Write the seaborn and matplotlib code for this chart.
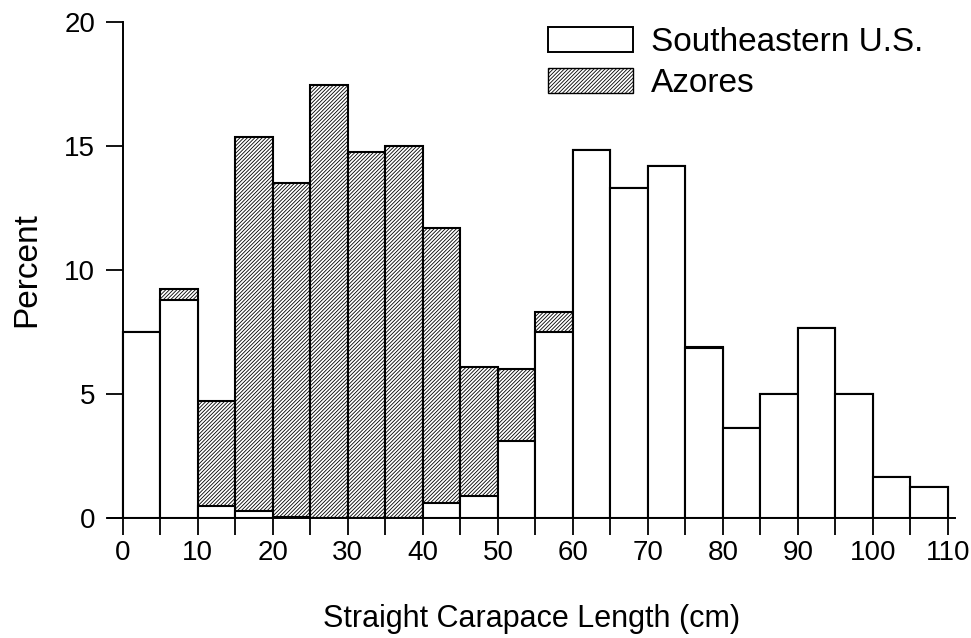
import numpy as np
import pandas as pd
import matplotlib
matplotlib.use("Agg")
import matplotlib.pyplot as plt
from matplotlib.patches import Patch
import seaborn as sns

# Data: 5-cm bins of straight carapace length (cm), percent per bin
bin_edges = [0, 5, 10, 15, 20, 25, 30, 35, 40, 45, 50, 55, 60,
             65, 70, 75, 80, 85, 90, 95, 100, 105, 110]
southeastern_us = [7.5, 8.8, 0.5, 0.3, 0.05, 0.0, 0.0, 0.0, 0.6, 0.9, 3.1, 7.5,
                   14.85, 13.3, 14.2, 6.85, 3.65, 5.0, 7.65, 5.0, 1.65, 1.25]
azores = [0.0, 0.45, 4.2, 15.05, 13.45, 17.45, 14.75, 15.0, 11.1, 5.2, 2.9, 0.8,
          0.0, 0.0, 0.0, 0.05, 0.0, 0.0, 0.0, 0.0, 0.0, 0.0]
x_ticks = [0, 10, 20, 30, 40, 50, 60, 70, 80, 90, 100, 110]
y_ticks = [0, 5, 10, 15, 20]

sns.set_theme(style="white")
plt.rcParams['font.family'] = ['Liberation Sans', 'DejaVu Sans']
plt.rcParams['hatch.color'] = '#2a2a2a'
plt.rcParams['hatch.linewidth'] = 0.6

HATCH = "/" * 9

edges = np.array(bin_edges, dtype=float)
centers = (edges[:-1] + edges[1:]) / 2
se = np.array(southeastern_us)
az = np.array(azores)
df = pd.DataFrame({"center": centers, "se": se, "total": se + az})

fig = plt.figure(figsize=(9.71, 6.38), dpi=100)
ax = fig.add_axes([0.111, 0.188, 0.873, 0.7775])

# Azores stacked on top of Southeastern U.S.: draw total (hatched), then SE (white) over it
sns.histplot(data=df, x="center", weights="total", bins=list(bin_edges), ax=ax,
             color="white", edgecolor="black", linewidth=1.5, alpha=1,
             hatch=HATCH, stat="count")
sns.histplot(data=df, x="center", weights="se", bins=list(bin_edges), ax=ax,
             color="white", edgecolor="black", linewidth=1.5, alpha=1,
             stat="count")

ax.set_xlim(-2, 111)
ax.set_ylim(0, 20)
for s in ["top", "right"]:
    ax.spines[s].set_visible(False)
ax.spines["left"].set_position(("data", 0))
ax.spines["left"].set_bounds(0, 20)
for s in ["left", "bottom"]:
    ax.spines[s].set_color("black")
    ax.spines[s].set_linewidth(1.4)

ax.set_xticks(x_ticks)
ax.set_xticks(bin_edges, minor=True)
ax.set_yticks(y_ticks)
ax.tick_params(axis="both", which="both", direction="out", length=12, width=1.3,
               color="black", labelsize=20, labelcolor="black")
ax.tick_params(axis="x", which="both", bottom=True, pad=4)
ax.tick_params(axis="y", left=True, pad=8)
ax.set_xlabel("Straight Carapace Length (cm)", fontsize=22, labelpad=27, color="black")
ax.set_ylabel("Percent", fontsize=24, labelpad=16, color="black")
ax.grid(False)

handles = [Patch(facecolor="white", edgecolor="black", linewidth=1.4, label="Southeastern U.S."),
           Patch(facecolor="white", edgecolor="black", linewidth=1.0, hatch=HATCH, label="Azores")]
ax.legend(handles=handles, loc="upper left", bbox_to_anchor=(0.519, 0.99), frameon=False,
          fontsize=24, labelcolor="black", handlelength=2.55, handleheight=0.75,
          handletextpad=0.55, labelspacing=0.3, borderpad=0, borderaxespad=0)

fig.savefig("out.png", dpi=100)
